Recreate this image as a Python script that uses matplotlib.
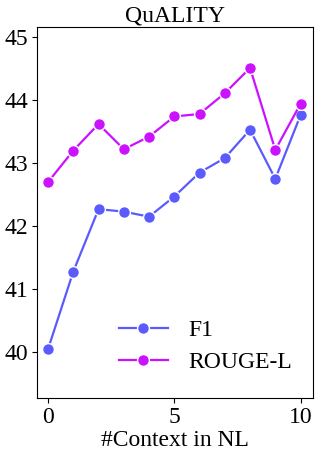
import matplotlib
matplotlib.use("Agg")
import matplotlib.pyplot as plt

plt.rcParams['font.family'] = ['Liberation Serif', 'DejaVu Serif']
plt.rcParams['mathtext.fontset'] = 'stix'

x = list(range(11))
f1 = [40.05, 41.28, 42.27, 42.23, 42.15, 42.47, 42.85, 43.08, 43.53, 42.75, 43.76]
rouge = [42.70, 43.20, 43.62, 43.22, 43.42, 43.74, 43.78, 44.11, 44.51, 43.21, 43.94]

fig = plt.figure(figsize=(3.16, 4.54), dpi=100)
ax = fig.add_axes([0.117, 0.123, 0.874, 0.8175])

ax.plot(x, f1, color='#5a5aff', lw=1.6, marker='o', ms=8.5, mec='white', mew=1.0, label='F1')
ax.plot(x, rouge, color='#cc11ff', lw=1.6, marker='o', ms=8.5, mec='white', mew=1.0, label='ROUGE-L')

ax.set_xlim(-0.44, 10.5)
ax.set_ylim(39.27, 45.16)
ax.set_xticks([0, 5, 10])
ax.set_yticks([40, 41, 42, 43, 44, 45])
ax.tick_params(labelsize=17, pad=3)
ax.set_title('QuALITY', fontsize=17, pad=4)
ax.set_xlabel('#Context in NL', fontsize=17, labelpad=1)
ax.legend(loc='lower right', bbox_to_anchor=(1.0, 0.01), frameon=False, fontsize=17,
          handlelength=2.1, handletextpad=0.85, labelspacing=0.45)

fig.savefig('out.png', dpi=100)
